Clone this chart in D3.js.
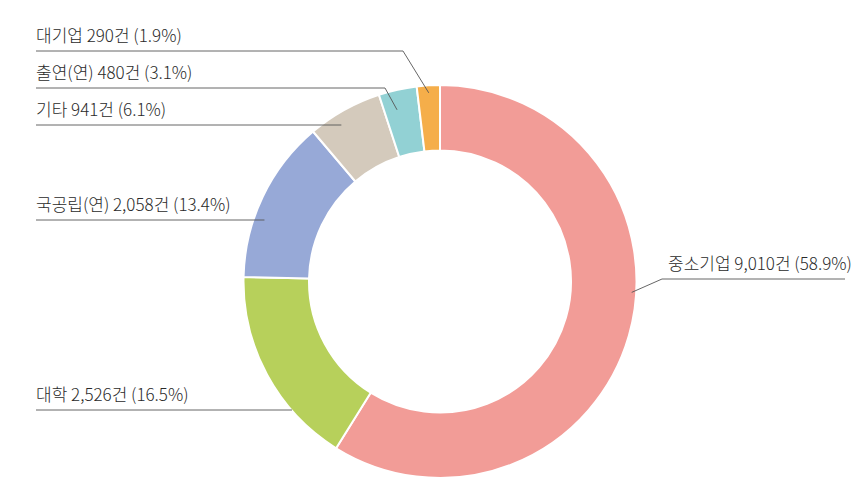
<!DOCTYPE html>
<html><head><meta charset="utf-8">
<script src="https://cdn.jsdelivr.net/npm/d3@7"></script>
<style>
html,body{margin:0;padding:0;background:#fff;}
svg{display:block;}
text{font-family:"Noto Sans CJK KR","Noto Sans",sans-serif;font-weight:300;}
</style></head>
<body>
<svg id="chart" width="859" height="491"></svg>
<script>
const categories = ["중소기업", "대학", "국공립(연)", "기타", "출연(연)", "대기업"];
const counts = [9010, 2526, 2058, 941, 480, 290];
const percents = [58.9, 16.5, 13.4, 6.1, 3.1, 1.9];
const colors = ["#F29C97", "#B7D05B", "#97A9D7", "#D4CABC", "#92D1D4", "#F5AE4A"];

// label layout (annotation placement)
const labelLayout = {
  "중소기업": {side: "right", lineY: 279, textX: 668, elbowX: 662, t: 0.44, r: 192, lineEnd: 845},
  "대학": {side: "left", lineY: 410, r: 196},
  "국공립(연)": {side: "left", lineY: 220, r: 186},
  "기타": {side: "left", lineY: 125, r: 185},
  "출연(연)": {side: "left", lineY: 88, elbowX: 385, t: 0.36, r: 177},
  "대기업": {side: "left", lineY: 51, elbowX: 403, t: 0.5, r: 189}
};

const svg = d3.select("#chart");
const cx = 440, cy = 281.5, R = 196.5, r0 = 131;
const g = svg.append("g").attr("transform", `translate(${cx},${cy})`);

const data = categories.map((c, i) => ({cat: c, value: counts[i], pct: percents[i], color: colors[i]}));
const pie = d3.pie().value(d => d.value).sort(null);
const arcs = pie(data);
const arc = d3.arc().innerRadius(r0).outerRadius(R);

g.selectAll("path.slice").data(arcs).join("path")
  .attr("class", "slice")
  .attr("d", arc)
  .attr("fill", d => d.data.color)
  .attr("stroke", "#fff")
  .attr("stroke-width", 2);

const fmt = d3.format(",");
const leftX = 36;

arcs.forEach(a => {
  const L = labelLayout[a.data.cat];
  const label = `${a.data.cat} ${fmt(a.data.value)}건 (${a.data.pct}%)`;
  let pts;
  if (L.t !== undefined) {
    const ang = a.startAngle + (a.endAngle - a.startAngle) * L.t;
    const ax = cx + L.r * Math.sin(ang), ay = cy - L.r * Math.cos(ang);
    if (L.side === "left") pts = [[leftX, L.lineY], [L.elbowX, L.lineY], [ax, ay]];
    else pts = [[ax, ay], [L.elbowX, L.lineY], [L.lineEnd, L.lineY]];
  } else {
    const dy = L.lineY - cy;
    const ax = cx - Math.sqrt(L.r * L.r - dy * dy);
    pts = [[leftX, L.lineY], [ax, L.lineY]];
  }
  svg.append("path")
    .attr("d", d3.line()(pts))
    .attr("fill", "none")
    .attr("stroke", "#555")
    .attr("stroke-width", 0.9);
  svg.append("text")
    .attr("x", L.side === "left" ? leftX : L.textX)
    .attr("y", L.lineY - 9)
    .attr("font-size", 17)
    .attr("fill", "#2a2a2a")
    .text(label);
});
</script>
</body></html>
